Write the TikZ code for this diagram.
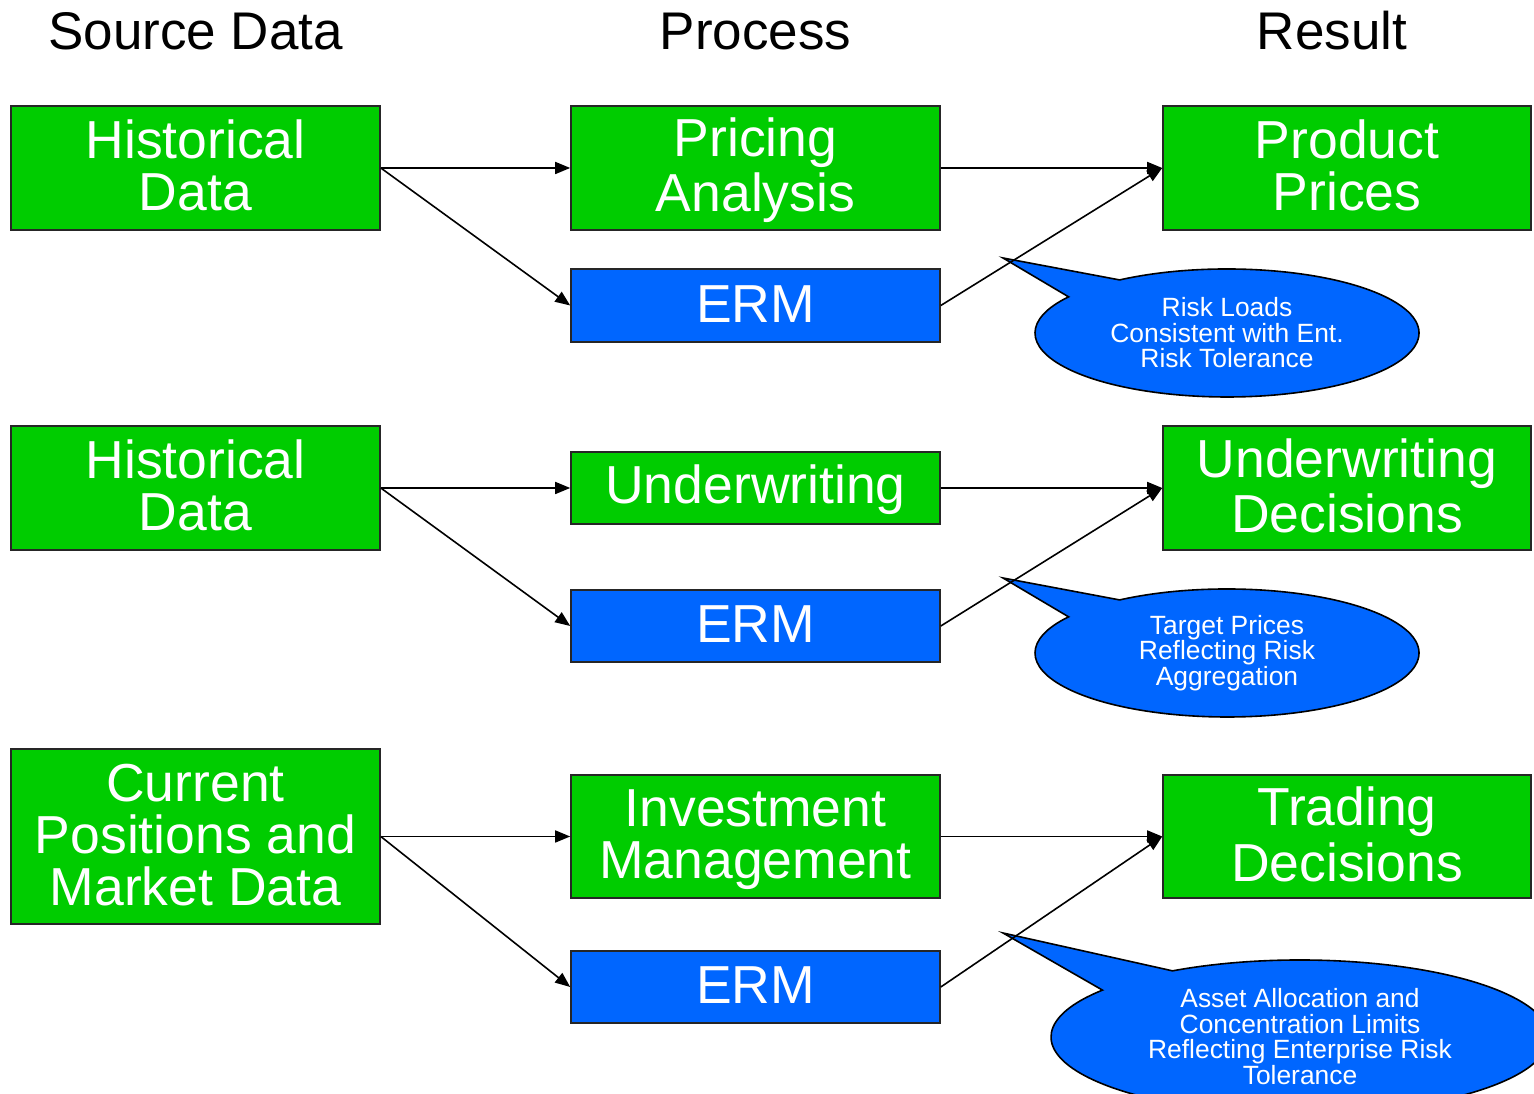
\documentclass[tikz,border=0pt]{standalone}
\usepackage{fontspec}
\setmainfont{Liberation Sans}
\usetikzlibrary{arrows.meta,calc}
\definecolor{boxgreen}{RGB}{0,204,0}
\definecolor{boxblue}{RGB}{0,102,255}
\newcommand{\boxstrut}{\rule[-9pt]{0pt}{52pt}}
\begin{document}
\begin{tikzpicture}[x=1pt,y=1pt,
  box/.style={draw=black!85, line width=1.6pt, inner sep=0pt, text=white, align=center,
    font=\fontsize{53.5}{52}\selectfont, minimum width=369pt},
  gbox/.style={box, fill=boxgreen},
  bbox/.style={box, fill=boxblue},
  header/.style={anchor=base, font=\fontsize{53}{60}\selectfont, text=black, inner sep=0pt},
  callout/.style={fill=boxblue, draw=black, line width=1.6pt, line join=miter},
  ctext/.style={text=white, align=center, font=\fontsize{26.4}{25.5}\selectfont, inner sep=0pt},
  conn/.style={draw=black, line width=1.6pt, -{Triangle[length=15pt,width=12pt]}}
]
\useasboundingbox (0,0) rectangle (1534,1094);
\clip (0,0) rectangle (1534,1094);

% headers
\node[header] (h1) at (195.5,1044) {Source Data};
\node[header] (h2) at (755.5,1044) {Process};
\node[header] (h3) at (1332,1044) {Result};

% row 1
\node[gbox, minimum height=124pt] (hd1) at (195.5,926) {\boxstrut Historical\\\boxstrut Data};
\node[gbox, minimum height=124pt] (pa) at (755.5,926) {\boxstrut Pricing\\\boxstrut Analysis};
\node[bbox, minimum height=73pt] (erm1) at (755.5,788.5) {\boxstrut ERM};
\node[gbox, minimum height=124pt, minimum width=368pt] (pp) at (1347,926) {\boxstrut Product\\\boxstrut Prices};

% row 2
\node[gbox, minimum height=124pt] (hd2) at (195.5,606) {\boxstrut Historical\\\boxstrut Data};
\node[gbox, minimum height=72pt] (uw) at (755.5,606) {\boxstrut Underwriting};
\node[bbox, minimum height=72pt] (erm2) at (755.5,468) {\boxstrut ERM};
\node[gbox, minimum height=124pt, minimum width=368pt] (ud) at (1347,606) {\boxstrut Underwriting\\\boxstrut Decisions};

% row 3
\node[gbox, minimum height=175pt] (cp) at (195.5,257.5) {\boxstrut Current\\\boxstrut Positions and\\\boxstrut Market Data};
\node[gbox, minimum height=123pt] (im) at (755.5,257.5) {\boxstrut Investment\\\boxstrut Management};
\node[bbox, minimum height=72pt] (erm3) at (755.5,107) {\boxstrut ERM};
\node[gbox, minimum height=123pt, minimum width=368pt] (td) at (1347,257.5) {\boxstrut Trading\\\boxstrut Decisions};

% callouts
\coordinate (c1) at (1227,761);
\coordinate (tip1) at (1003,836);
\draw[callout] (tip1) -- ($(c1)+(124:192 and 64)$) arc[start angle=124, end angle=-214.4, x radius=192, y radius=64] -- cycle;
\node[ctext] (t1) at (c1) {Risk Loads\\Consistent with Ent.\\Risk Tolerance};

\coordinate (c2) at (1227,441);
\coordinate (tip2) at (1003,516);
\draw[callout] (tip2) -- ($(c2)+(124:192 and 64)$) arc[start angle=124, end angle=-214.4, x radius=192, y radius=64] -- cycle;
\node[ctext] (t2) at (c2) {Target Prices\\Reflecting Risk\\Aggregation};

\coordinate (c3) at (1300,57);
\coordinate (tip3) at (1003,161);
\draw[callout] (tip3) -- ($(c3)+(120.8:249 and 77)$) arc[start angle=120.8, end angle=-217.5, x radius=249, y radius=77] -- cycle;
\node[ctext] (t3) at (1300,57.5) {Asset Allocation and\\Concentration Limits\\Reflecting Enterprise Risk\\Tolerance};

% connectors
\draw[conn] (hd1.east) -- (pa.west);
\draw[conn] (hd1.east) -- (erm1.west);
\draw[conn] (pa.east) -- (pp.west);
\draw[conn] (erm1.east) -- (pp.west);

\draw[conn] (hd2.east) -- (uw.west);
\draw[conn] (hd2.east) -- (erm2.west);
\draw[conn] (uw.east) -- (ud.west);
\draw[conn] (erm2.east) -- (ud.west);

\draw[conn] (cp.east) -- (im.west);
\draw[conn] (cp.east) -- (erm3.west);
\draw[conn] (im.east) -- (td.west);
\draw[conn] (erm3.east) -- (td.west);
\end{tikzpicture}
\end{document}
